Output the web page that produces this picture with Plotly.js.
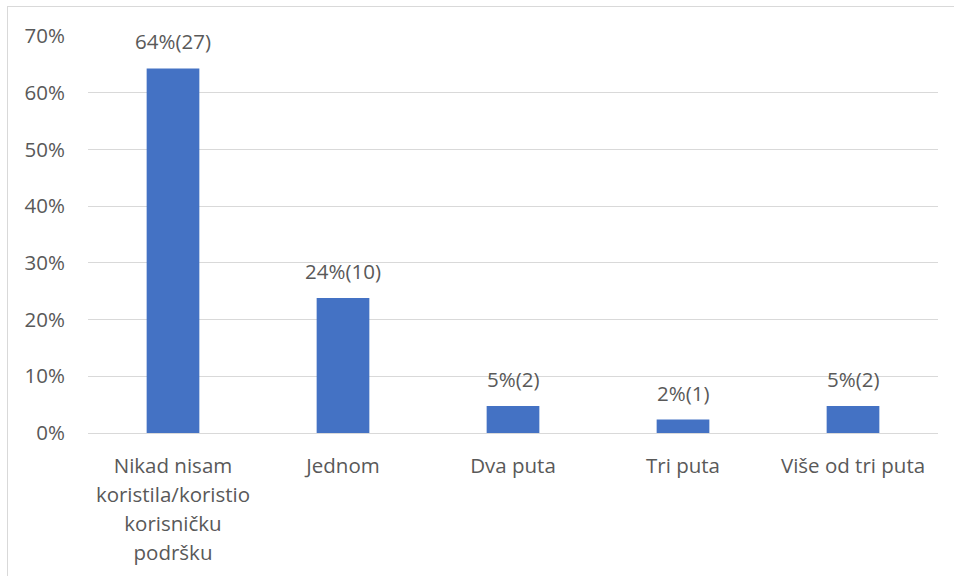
<!DOCTYPE html>
<html>
<head>
<meta charset="utf-8">
<script src="https://cdn.plot.ly/plotly-3.0.1.min.js"></script>
<style>
  html, body { margin: 0; padding: 0; background: #fff; }
  #wrap { position: relative; width: 954px; height: 576px; overflow: hidden; }
  #chart { width: 954px; height: 576px; }
  #frame { position: absolute; left: 7px; top: 6px; width: 960px; height: 600px; border: 1px solid #D9D9D9; box-sizing: border-box; pointer-events: none; }
</style>
</head>
<body>
<div id="wrap">
  <div id="chart"></div>
  <div id="frame"></div>
</div>
<script>
const categories = ["Nikad nisam koristila/koristio korisničku podršku", "Jednom", "Dva puta", "Tri puta", "Više od tri puta"];
const tickLines = [["Nikad nisam", "koristila/koristio", "korisničku", "podršku"], ["Jednom"], ["Dva puta"], ["Tri puta"], ["Više od tri puta"]];
const counts = [27, 10, 2, 1, 2];
const shares = [0.6429, 0.2381, 0.0476, 0.0238, 0.0476];
const labels = ["64%(27)", "24%(10)", "5%(2)", "2%(1)", "5%(2)"];

const font = "'Open Sans', 'Noto Sans', sans-serif";
const textColor = "#595959";
const fs = 20.5;

const ticktext = tickLines.map(lines => lines.map(l => '<span style="font-size:' + fs + 'px">' + l + '</span>').join('<br>'));

const trace = {
  type: "bar",
  x: categories,
  y: shares,
  marker: { color: "#4472C4" },
  hoverinfo: "none"
};

const annotations = categories.map((c, i) => ({
  x: c, y: shares[i], xref: "x", yref: "y",
  text: labels[i], showarrow: false,
  yanchor: "bottom", yshift: 11,
  font: { family: font, size: fs, color: textColor }
}));

const layout = {
  width: 954,
  height: 576,
  margin: { l: 88, r: 16, t: 36, b: 143 },
  paper_bgcolor: "#fff",
  plot_bgcolor: "#fff",
  bargap: 0.69,
  showlegend: false,
  font: { family: font, size: fs, color: textColor },
  annotations: annotations,
  xaxis: {
    tickmode: "array",
    tickvals: categories,
    ticktext: ticktext,
    showgrid: false,
    showline: true,
    linecolor: "#D9D9D9",
    linewidth: 1,
    ticks: "",
    ticklabelstandoff: 12,
    tickfont: { family: font, size: 22.3, color: textColor },
    fixedrange: true
  },
  yaxis: {
    range: [0, 0.7],
    dtick: 0.1,
    tickformat: ".0%",
    showgrid: true,
    gridcolor: "#D9D9D9",
    gridwidth: 1,
    zeroline: false,
    showline: false,
    ticks: "",
    ticklabelstandoff: 22,
    tickfont: { family: font, size: fs, color: textColor },
    fixedrange: true
  }
};

Plotly.newPlot("chart", [trace], layout, { displayModeBar: false, staticPlot: true });
</script>
</body>
</html>
